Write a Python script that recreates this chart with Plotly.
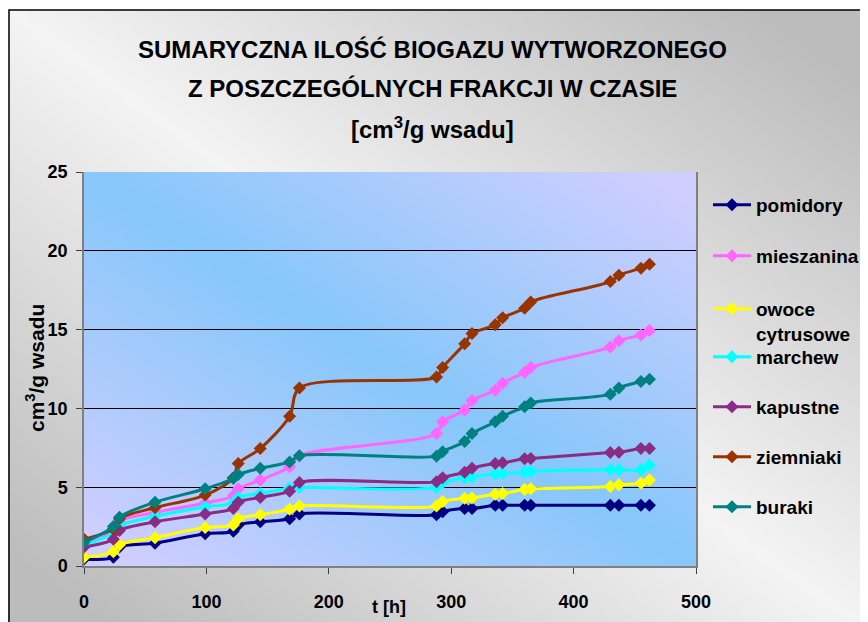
import base64, struct, zlib
import plotly.graph_objects as go

# ---------------- data ----------------
t_h = [0, 24, 29, 58, 99, 122, 126, 144, 168, 176, 288, 293, 311, 317, 336, 342, 360, 365, 430, 437, 455, 462]

pomidory   = [0.45, 0.55, 1.2, 1.45, 2.05, 2.2, 2.6, 2.8, 3.0, 3.3, 3.25, 3.45, 3.65, 3.65, 3.85, 3.85, 3.85, 3.85, 3.85, 3.85, 3.85, 3.85]
mieszanina = [1.4, 2.2, 2.85, 3.4, 4.0, 4.45, 4.9, 5.45, 6.3, 7.0, 8.4, 9.15, 9.9, 10.5, 11.15, 11.6, 12.3, 12.6, 13.9, 14.3, 14.65, 14.95]
owoce      = [0.55, 0.9, 1.35, 1.8, 2.45, 2.6, 3.0, 3.25, 3.6, 3.8, 3.8, 4.1, 4.3, 4.32, 4.55, 4.6, 4.85, 4.9, 5.05, 5.15, 5.25, 5.45]
marchew    = [1.3, 2.1, 2.55, 3.15, 3.75, 4.0, 4.35, 4.6, 4.95, 5.0, 5.0, 5.3, 5.6, 5.65, 5.85, 5.87, 5.95, 6.0, 6.1, 6.1, 6.1, 6.4]
kapustne   = [1.2, 1.7, 2.25, 2.8, 3.3, 3.65, 4.05, 4.35, 4.75, 5.3, 5.35, 5.6, 5.95, 6.2, 6.5, 6.55, 6.8, 6.82, 7.2, 7.22, 7.45, 7.45]
ziemniaki  = [1.7, 2.35, 3.0, 3.7, 4.5, 5.6, 6.5, 7.45, 9.5, 11.3, 12.0, 12.6, 14.1, 14.75, 15.3, 15.75, 16.35, 16.75, 18.05, 18.45, 18.9, 19.15]
buraki     = [1.5, 2.5, 3.1, 4.05, 4.9, 5.55, 5.8, 6.2, 6.6, 7.0, 6.97, 7.25, 7.9, 8.4, 9.15, 9.5, 10.1, 10.35, 10.9, 11.3, 11.7, 11.85]

series_names = ["pomidory", "mieszanina", "owoce<br>cytrusowe", "marchew", "kapustne", "ziemniaki", "buraki"]
series_values = [pomidory, mieszanina, owoce, marchew, kapustne, ziemniaki, buraki]
series_colors = ["#000080", "#FF66FF", "#FFFF00", "#00FFFF", "#8B2C84", "#993300", "#008080"]

x_ticks = [0, 100, 200, 300, 400, 500]
y_ticks = [0, 5, 10, 15, 20, 25]

# ---------------- geometry helpers ----------------
# page body has an 8 px margin, so the figure is drawn 8 px smaller and
# all window coordinates below are converted to figure coordinates.
OFF = 8
W, H = 868 - OFF, 622 - OFF
L, R, T, B = 84 - OFF, 696 - OFF, 172 - OFF, 566 - OFF   # plot area (figure px)
PW, PH = R - L, B - T

def px(xw):
    return (xw - OFF - L) / PW

def py(yw):
    return (B - (yw - OFF)) / PH

# ---------------- gradient images ----------------
def png_uri(w, h, fn):
    raw = bytearray()
    for j in range(h):
        raw.append(0)
        for i in range(w):
            raw += bytes(fn(i / (w - 1), j / (h - 1)))
    def chunk(tag, data):
        return (struct.pack(">I", len(data)) + tag + data +
                struct.pack(">I", zlib.crc32(tag + data) & 0xffffffff))
    png = (b"\x89PNG\r\n\x1a\n" +
           chunk(b"IHDR", struct.pack(">IIBBBBB", w, h, 8, 2, 0, 0, 0)) +
           chunk(b"IDAT", zlib.compress(bytes(raw), 9)) +
           chunk(b"IEND", b""))
    return "data:image/png;base64," + base64.b64encode(png).decode()

def mix(c1, c2, f):
    return tuple(int(round(a + (b - a) * f)) for a, b in zip(c1, c2))

def plot_grad(u, v):
    return mix((135, 199, 250), (206, 206, 255), min(1.0, abs(u - v) * 1.1))

def paper_grad(u, v):
    return mix((244, 244, 244), (188, 188, 188), min(1.0, abs(u - v) * 1.15))

img_plot = png_uri(160, 160, plot_grad)
img_paper = png_uri(160, 160, paper_grad)

# ---------------- figure ----------------
fig = go.Figure()
for i, (name, vals, col) in enumerate(zip(series_names, series_values, series_colors)):
    fig.add_trace(go.Scatter(
        x=t_h, y=vals, name=name, mode="lines+markers",
        line=dict(color=col, width=3, shape="spline", smoothing=0.9),
        marker=dict(symbol="diamond", size=10, color=col),
        legend="legend" if i == 0 else f"legend{i+1}",
    ))

font_main = "Liberation Sans, Arial, sans-serif"

leg_y = [205, 256, 306, 357, 407, 457, 507]
legends = {}
for i, yy in enumerate(leg_y):
    key = "legend" if i == 0 else f"legend{i+1}"
    multi = "<br>" in series_names[i]
    legends[key] = dict(
        x=px(708), y=py(yy - 16) if multi else py(yy),
        xanchor="left", yanchor="top" if multi else "middle",
        valign="top",
        bgcolor="rgba(0,0,0,0)", borderwidth=0,
        font=dict(family=font_main, size=19, color="black", weight="bold"),
        itemwidth=38,
    )

fig.update_layout(
    width=W, height=H,
    margin=dict(l=L, r=W - R, t=T, b=H - B, pad=0, autoexpand=False),
    paper_bgcolor="white",
    plot_bgcolor="rgba(0,0,0,0)",
    font=dict(family=font_main, color="black"),
    showlegend=True,
    **legends,
    xaxis=dict(
        range=[0, 500], tickvals=x_ticks, ticktext=[str(v) for v in x_ticks],
        showgrid=False, zeroline=False,
        showline=True, linecolor="#808080", linewidth=1.5,
        ticks="outside", ticklen=6, tickcolor="#404040", tickwidth=1,
        tickfont=dict(size=18, family=font_main, color="black", weight="bold"),
        ticklabelstandoff=13,
    ),
    yaxis=dict(
        range=[0, 25], tickvals=y_ticks, ticktext=[str(v) for v in y_ticks],
        showgrid=True, gridcolor="#000000", gridwidth=1,
        zeroline=False,
        showline=True, linecolor="#808080", linewidth=1.5, mirror=True,
        ticks="outside", ticklen=6, tickcolor="#404040", tickwidth=1,
        tickfont=dict(size=18, family=font_main, color="black", weight="bold"),
        ticklabelstandoff=5,
    ),
    images=[
        dict(source=img_paper, xref="paper", yref="paper",
             x=px(8), y=py(10), sizex=(880 - 8) / PW, sizey=(640 - 10) / PH,
             xanchor="left", yanchor="top", sizing="stretch", layer="below"),
        dict(source=img_plot, xref="paper", yref="paper",
             x=0, y=1, sizex=1, sizey=1,
             xanchor="left", yanchor="top", sizing="stretch", layer="below"),
    ],
    shapes=[
        dict(type="rect", xref="paper", yref="paper",
             x0=px(9), y0=py(10), x1=px(890), y1=py(650),
             line=dict(color="black", width=1.5), fillcolor="rgba(0,0,0,0)", layer="above"),
    ],
)

title_font = dict(family=font_main, size=24, color="black", weight="bold")
ann = [
    dict(text="SUMARYCZNA ILOŚĆ BIOGAZU WYTWORZONEGO", x=px(432), y=py(49), font=title_font),
    dict(text="Z POSZCZEGÓLNYCH FRAKCJI W CZASIE", x=px(432), y=py(88), font=title_font),
    dict(text="[cm<sup>3</sup>/g wsadu]", x=px(432), y=py(128), font=title_font),
    dict(text="cm<sup>3</sup>/g wsadu", x=px(35), y=py(368), textangle=-90,
         font=dict(family=font_main, size=21, color="black", weight="bold")),
    dict(text="t [h]", x=px(389), y=py(607),
         font=dict(family=font_main, size=18, color="black", weight="bold")),
]
for a in ann:
    fig.add_annotation(xref="paper", yref="paper", showarrow=False,
                       xanchor="center", yanchor="middle", **a)

fig.write_html("out.html")
